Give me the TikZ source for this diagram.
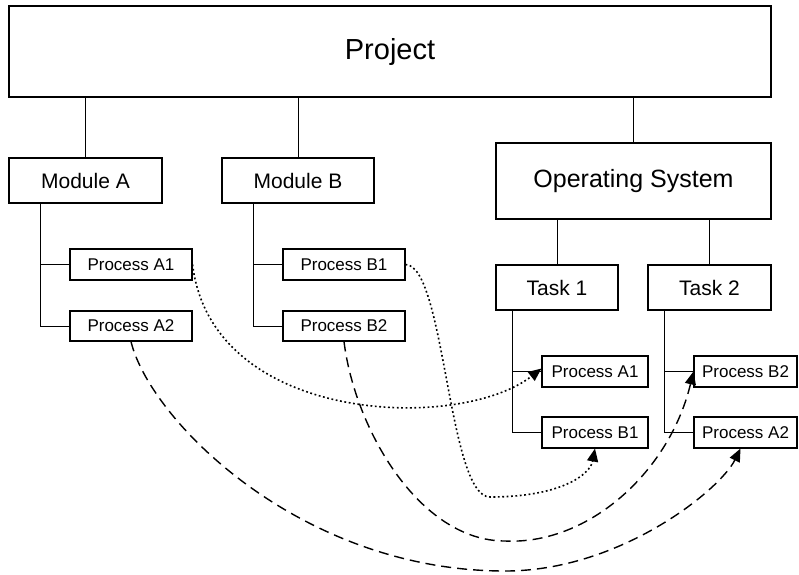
\documentclass[tikz,border=0pt]{standalone}
\usepackage{fontspec}
\setmainfont{Liberation Sans}
\usetikzlibrary{arrows.meta}
\tikzset{
  box/.style={draw=black, line width=1.1pt, inner sep=0pt, align=center, font=#1},
  tree/.style={draw=black, line width=1pt},
  link/.style={line width=1.4pt, -{Triangle[length=13pt,width=11pt]}},
  dots/.style={link, line width=1.6pt, dash pattern=on 1.8pt off 2.6pt},
  dashes/.style={link, dash pattern=on 10pt off 6pt},
}
\begin{document}
\begin{tikzpicture}[x=1pt, y=-1pt]
\useasboundingbox (0,0) rectangle (799,574);

% hierarchy boxes
\node[box=\fontsize{29}{33}\selectfont, minimum width=762pt, minimum height=91pt] (proj) at (390,51.5) {Project};
\node[box=\fontsize{21}{25}\selectfont, minimum width=153pt, minimum height=45pt] (modA) at (85.5,180.5) {Module A};
\node[box=\fontsize{21}{25}\selectfont, minimum width=152pt, minimum height=45pt] (modB) at (298,180.5) {Module B};
\node[box=\fontsize{25}{29}\selectfont, minimum width=275pt, minimum height=76pt] (os) at (633.5,181) {Operating System};
\node[box=\fontsize{21}{25}\selectfont, minimum width=122pt, minimum height=45pt] (task1) at (557,287.5) {Task 1};
\node[box=\fontsize{21}{25}\selectfont, minimum width=123pt, minimum height=45pt] (task2) at (709.5,287.5) {Task 2};

% processes under the modules
\node[box=\fontsize{17}{20}\selectfont, minimum width=122pt, minimum height=31pt] (pA1) at (131,264.5) {Process A1};
\node[box=\fontsize{17}{20}\selectfont, minimum width=122pt, minimum height=30pt] (pA2) at (131,326) {Process A2};
\node[box=\fontsize{17}{20}\selectfont, minimum width=122pt, minimum height=31pt] (pB1) at (344,264.5) {Process B1};
\node[box=\fontsize{17}{20}\selectfont, minimum width=122pt, minimum height=30pt] (pB2) at (344,326) {Process B2};

% processes under the tasks
\node[box=\fontsize{17}{20}\selectfont, minimum width=106pt, minimum height=31pt] (tA1) at (595,371.5) {Process A1};
\node[box=\fontsize{17}{20}\selectfont, minimum width=106pt, minimum height=31pt] (tB1) at (595,432.5) {Process B1};
\node[box=\fontsize{17}{20}\selectfont, minimum width=103pt, minimum height=31pt] (tB2) at (745.5,371.5) {Process B2};
\node[box=\fontsize{17}{20}\selectfont, minimum width=103pt, minimum height=31pt] (tA2) at (745.5,432.5) {Process A2};

% tree connectors
\draw[tree] (modA.north) -- (modA.north |- proj.south);
\draw[tree] (modB.north) -- (modB.north |- proj.south);
\draw[tree] (os.north) -- (os.north |- proj.south);
\draw[tree] (task1.north) -- (task1.north |- os.south);
\draw[tree] (task2.north) -- (task2.north |- os.south);

\coordinate (jA) at (40,203);
\coordinate (jB) at (253,203);
\coordinate (j1) at (512,310);
\coordinate (j2) at (664,310);
\draw[tree] (jA) |- (pA2.west);  \draw[tree] (pA1.west) -- (pA1.west -| jA);
\draw[tree] (jB) |- (pB2.west);  \draw[tree] (pB1.west) -- (pB1.west -| jB);
\draw[tree] (j1) |- (tB1.west);  \draw[tree] (tA1.west) -- (tA1.west -| j1);
\draw[tree] (j2) |- (tA2.west);  \draw[tree] (tB2.west) -- (tB2.west -| j2);

% process mappings
\coordinate (lowB1) at (490,497);
\coordinate (lowA2) at (505,571);
\coordinate (lowB2) at (505,541);
\draw[dots] (pA1.east) .. controls (212,425) and (460,432) .. ([yshift=3pt]tA1.west);
\draw[dots] (pB1.east) .. controls (445,265) and (448,497) .. (lowB1)
                       .. controls (560,497) and (590,475) .. (tB1.south);
\draw[dashes] (pA2.south) .. controls (150,420) and (300,571) .. (lowA2)
                          .. controls (620,571) and (720,490) .. ([xshift=-5pt]tA2.south);
\draw[dashes] (pB2.south) .. controls (355,430) and (420,541) .. (lowB2)
                          .. controls (590,545) and (670,470) .. (tB2.west);
\end{tikzpicture}
\end{document}
